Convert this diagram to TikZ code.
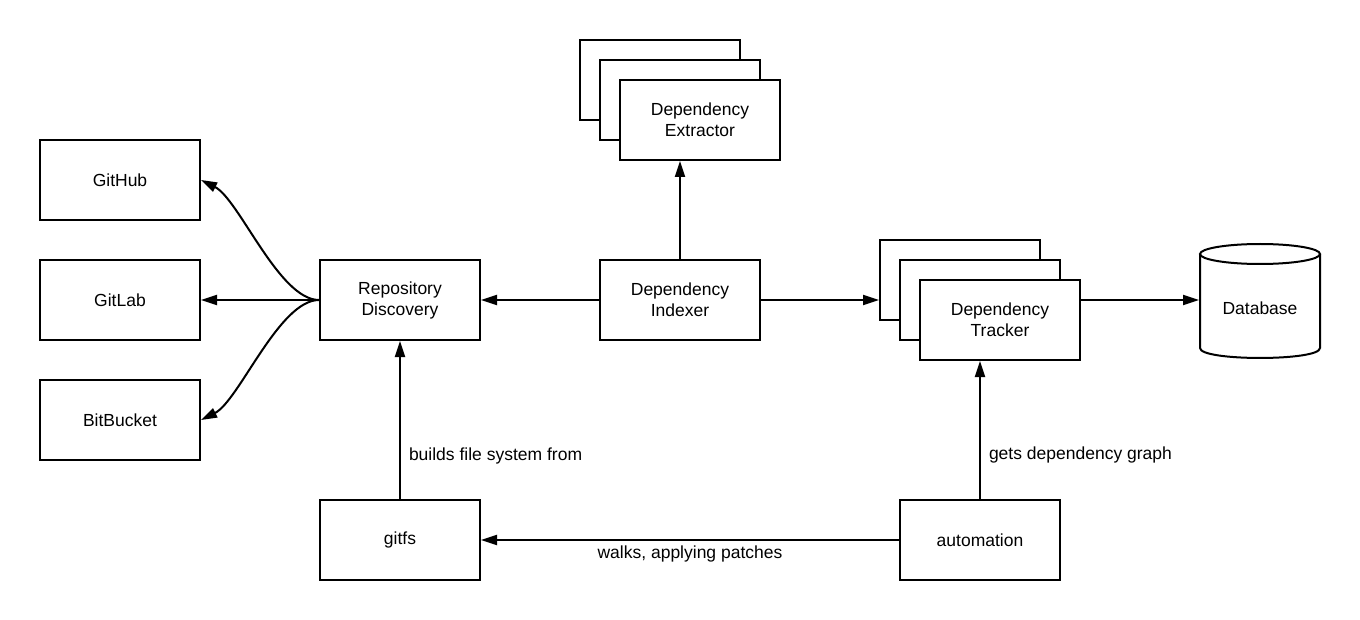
\documentclass[tikz,border=0pt]{standalone}
\usepackage{fontspec}
\setmainfont{Liberation Sans}
\usetikzlibrary{arrows.meta}
\begin{document}
\begin{tikzpicture}[x=1pt,y=-1pt,
  every node/.style={font=\fontsize{17.5}{21}\selectfont},
  box/.style={draw, line width=2pt, rectangle, minimum width=160pt, minimum height=80pt, inner sep=0pt, align=center, fill=white},
  conn/.style={line width=2pt, -{Triangle[length=16pt,width=10pt]}},
  lbl/.style={inner sep=0pt}
]
\fill[white] (0,0) rectangle (1360,620);
\useasboundingbox (0,0) rectangle (1360,620);

\node[box] (gh) at (120,180) {GitHub};
\node[box] (gl) at (120,300) {GitLab};
\node[box] (bb) at (120,420) {BitBucket};
\node[box] (rd) at (400,300) {Repository\\Discovery};
\node[box] (idx) at (680,300) {Dependency\\Indexer};
\node[box] (ext3) at (660,80) {};
\node[box] (ext2) at (680,100) {};
\node[box] (ext) at (700,120) {Dependency\\Extractor};
\node[box] (trk3) at (960,280) {};
\node[box] (trk2) at (980,300) {};
\node[box] (trk) at (1000,320) {Dependency\\Tracker};
\node[box] (gitfs) at (400,540) {gitfs};
\node[box] (auto) at (980,540) {automation};

\draw[line width=2pt] (1260,254) ellipse [x radius=60, y radius=10];
\draw[line width=2pt] (1200,254) -- (1200,348) .. controls (1200,361.3) and (1320,361.3) .. (1320,348) -- (1320,254);
\node[line width=2pt, minimum width=120pt, minimum height=116pt, inner sep=0pt, text height=32pt, text depth=3.7pt] (db) at (1260,300) {Database};

\draw[conn] (rd.west) .. controls +(-40,0) and +(38,19) .. (gh.east);
\draw[conn] (rd.west) -- (gl.east);
\draw[conn] (rd.west) .. controls +(-40,0) and +(38,-19) .. (bb.east);
\draw[conn] (idx.west) -- (rd.east);
\draw[conn] (idx.north) -- (idx.north |- ext.south);
\draw[conn] (idx.east) -- (idx.east -| trk3.west);
\draw[conn] (trk.east |- db.west) -- (db.west);
\draw[conn] (gitfs.north) -- node[lbl, anchor=west, pos=0.27, xshift=8pt] {builds file system from} (rd.south);
\draw[conn] (auto.north) -- node[lbl, anchor=west, pos=0.32, xshift=8pt] {gets dependency graph} (auto.north |- trk.south);
\draw[conn] (auto.west) -- node[lbl, pos=0.5, yshift=-13.5pt] {walks, applying patches} (gitfs.east);
\end{tikzpicture}
\end{document}
